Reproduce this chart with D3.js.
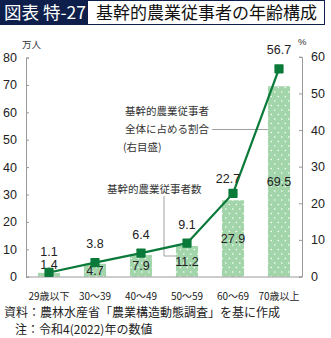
<!DOCTYPE html>
<html><head><meta charset="utf-8">
<script src="https://cdn.jsdelivr.net/npm/d3@7"></script>
<style>
body{margin:0;background:#fff;}
svg{display:block;font-family:"Liberation Sans","Noto Sans CJK JP",sans-serif;}
.jp{font-family:"Noto Sans CJK JP",sans-serif;}
</style></head><body>
<script>
const categories = ["29歳以下","30～39","40～49","50～59","60～69","70歳以上"];
const workers = [1.4, 4.7, 7.9, 11.2, 27.9, 69.5];      // 万人 (left axis)
const shares = [1.1, 3.8, 6.4, 9.1, 22.7, 56.7];        // % (right axis)
const leftTicks = [0,10,20,30,40,50,60,70,80];
const rightTicks = [0,10,20,30,40,50,60];

const W = 331, H = 338;
const svg = d3.select("body").append("svg").attr("width", W).attr("height", H);

const navy = "#0d1f4a";
const green = "#0a7a3a";
const barFill = "#a3d5ab";
const axisCol = "#9a9a9a";

// Title
svg.append("rect").attr("x",0).attr("y",0).attr("width",87).attr("height",25).attr("fill",navy);
svg.append("rect").attr("x",87.5).attr("y",0.5).attr("width",237).attr("height",24).attr("fill","#fff").attr("stroke",navy).attr("stroke-width",1);
svg.append("text").attr("class","jp").attr("x",4).attr("y",19).attr("fill","#fff").attr("font-size",17.5).text("図表 特-27");
svg.append("text").attr("class","jp").attr("x",96).attr("y",19).attr("fill","#111").attr("font-size",17).text("基幹的農業従事者の年齢構成");

// Scales
const x = d3.scaleBand().domain(categories).range([26, 302]).paddingInner(0.52).paddingOuter(0.26);
const yL = d3.scaleLinear().domain([0,80]).range([276.7, 57.5]);
const yR = d3.scaleLinear().domain([0,60]).range([276.5, 56.8]);

// pattern
const defs = svg.append("defs");
const pat = defs.append("pattern").attr("id","dots").attr("patternUnits","userSpaceOnUse")
  .attr("width",7).attr("height",9);
pat.append("rect").attr("width",7).attr("height",9).attr("fill",barFill);
pat.append("circle").attr("cx",1.8).attr("cy",2).attr("r",0.8).attr("fill","#fff");
pat.append("circle").attr("cx",5.3).attr("cy",6.5).attr("r",0.8).attr("fill","#fff");

// Axes
const gL = svg.append("g").attr("transform","translate(26,0)");
gL.call(d3.axisLeft(yL).tickValues(leftTicks).tickSize(-3).tickPadding(9));
const gR = svg.append("g").attr("transform","translate(302,0)");
gR.call(d3.axisRight(yR).tickValues(rightTicks).tickSize(-3).tickPadding(9));
[gL,gR].forEach(g=>{
  g.select(".domain").attr("stroke",axisCol);
  g.selectAll(".tick line").attr("stroke",axisCol);
  g.selectAll(".tick text").attr("font-size",12.5).attr("fill","#222").attr("font-family","Liberation Sans, sans-serif");
});

// bars
svg.append("g").selectAll("rect").data(categories).join("rect")
  .attr("x", d=>x(d)).attr("width", x.bandwidth())
  .attr("y", (d,i)=>yL(workers[i])).attr("height",(d,i)=>yL(0)-yL(workers[i]))
  .attr("fill","url(#dots)");

// baseline
svg.append("line").attr("x1",26).attr("x2",302).attr("y1",277).attr("y2",277).attr("stroke",axisCol);

// bar value labels (centered in bar, first one above marker)
svg.append("g").selectAll("text").data(categories).join("text")
  .attr("x", d=>x(d)+x.bandwidth()/2)
  .attr("y", (d,i)=> i===0 ? 268.5 : (yL(workers[i])+yL(0))/2 + 4.5)
  .attr("text-anchor","middle").attr("font-size",12.5).attr("fill","#222")
  .text((d,i)=>workers[i].toFixed(1));

// leader lines
const ann = svg.append("g").attr("stroke","#888").attr("fill","none").attr("stroke-width",0.8);
ann.append("polyline").attr("points",[[164,196],[164,256],[x("50～59"),256]].map(p=>p.join(",")).join(" "));
ann.append("line").attr("x1",212).attr("x2",x("70歳以上")).attr("y1",129.5).attr("y2",129.5);

// line
const line = d3.line().x((d,i)=>x(categories[i])+x.bandwidth()/2).y(d=>yR(d));
svg.append("path").datum(shares).attr("d",line).attr("fill","none").attr("stroke",green).attr("stroke-width",2.2);
svg.append("g").selectAll("rect").data(shares).join("rect")
  .attr("x",(d,i)=>x(categories[i])+x.bandwidth()/2-4.6).attr("y",d=>yR(d)-4.6)
  .attr("width",9.2).attr("height",9.2).attr("fill",green).attr("rx",0.8);

// share labels
svg.append("g").selectAll("text").data(shares).join("text")
  .attr("x",(d,i)=>x(categories[i])+x.bandwidth()/2 + (i===4?-5:0))
  .attr("y",(d,i)=> i===0 ? 255.5 : yR(d) - (i===4?10.5:14.5))
  .attr("text-anchor","middle").attr("font-size",12.5).attr("fill","#222")
  .text(d=>d.toFixed(1));

// annotation texts
const at = svg.append("g").attr("class","jp").attr("font-size",10.5).attr("fill","#333");
at.append("text").attr("x",125).attr("y",114.5).text("基幹的農業従事者");
at.append("text").attr("x",125).attr("y",133).text("全体に占める割合");
at.append("text").attr("x",123).attr("y",150.5).text("(右目盛)");
at.append("text").attr("x",107).attr("y",193).text("基幹的農業従事者数");

// units
svg.append("text").attr("class","jp").attr("x",22).attr("y",48).attr("font-size",9.5).attr("fill","#333").text("万人");
svg.append("text").attr("x",298).attr("y",45).attr("font-size",9.5).attr("fill","#333").text("%");

// x labels
svg.append("g").selectAll("text").data(categories).join("text")
  .attr("class","jp")
  .attr("x", d=>x(d)+x.bandwidth()/2).attr("y",300)
  .attr("text-anchor","middle").attr("font-size",10).attr("fill","#222").text(d=>d);

// footer
const ft = svg.append("g").attr("class","jp").attr("font-size",12).attr("fill","#222");
ft.append("text").attr("x",4).attr("y",317).text("資料：農林水産省「農業構造動態調査」を基に作成");
ft.append("text").attr("x",15).attr("y",334).text("注：令和4(2022)年の数値");
</script>
</body></html>
